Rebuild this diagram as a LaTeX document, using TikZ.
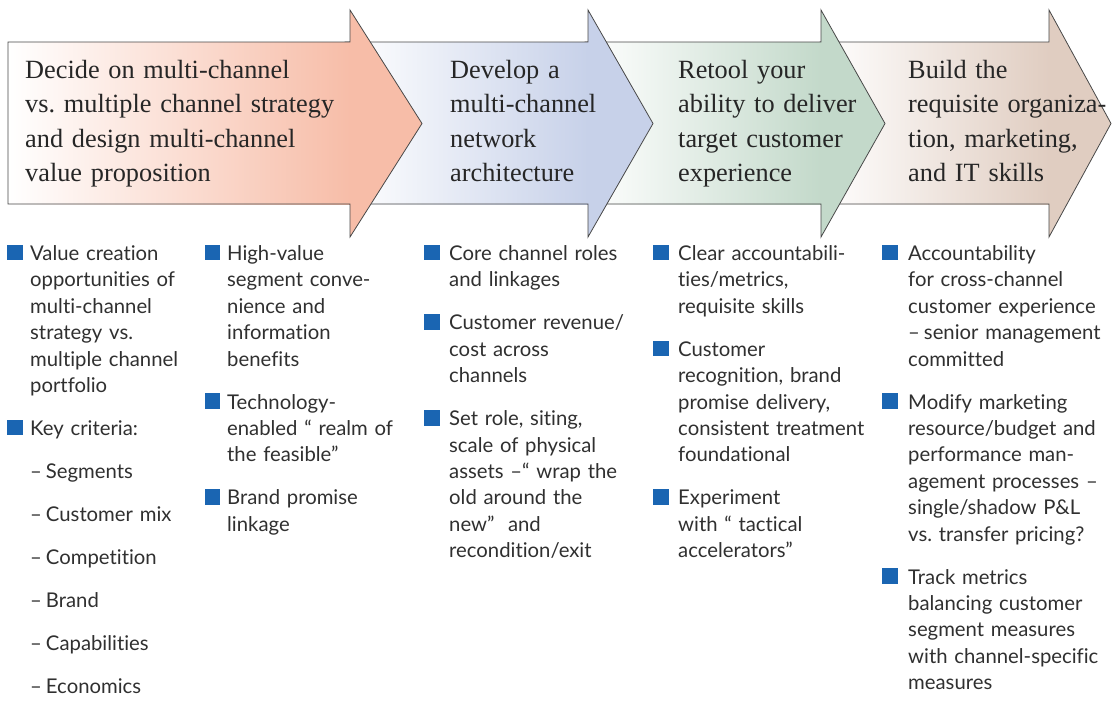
\documentclass[tikz,border=0pt]{standalone}
\usepackage{fontspec}
\setmainfont{Lato}[Ligatures=NoCommon]
\newfontfamily\titlefont{Liberation Serif}
\frenchspacing

\definecolor{salmon}{RGB}{247,189,168}
\definecolor{steel}{RGB}{199,209,233}
\definecolor{sage}{RGB}{195,217,202}
\definecolor{tan}{RGB}{224,205,193}
\definecolor{bulletblue}{RGB}{26,101,178}
\definecolor{outline}{RGB}{72,72,72}
\definecolor{bodygray}{RGB}{48,48,48}
\definecolor{titlegray}{RGB}{38,38,38}

% chevron: #1 left x, #2 head back x, #3 tip x, #4 colour
\newcommand\chevron[4]{%
  \fill[#4] (#1,42) -- (#2,42) -- (#2,10) -- (#3,123.5) -- (#2,237) -- (#2,204) -- (#1,204) -- cycle;
  \shade[left color=white, right color=#4] (#1,42) rectangle (#2,204);
  \draw[arrowline] (#1,42) -- (#2,42) -- (#2,10) -- (#3,123.5) -- (#2,237) -- (#2,204) -- (#1,204) -- cycle;
}

% bullet entry: #1 name, #2 position of first baseline, #3 bullet gap, #4 text
\newcommand\entry[4]{%
  \node[item] (#1) at (#2) {#4};
  \node[bulletsq] at ([xshift=-#3pt]#1.base west) {};
}

\begin{document}
\begin{tikzpicture}[x=1pt,y=-1pt,
  arrowline/.style={draw=outline, line width=0.8pt, line join=miter},
  title/.style={anchor=base west, inner sep=0pt, align=left, text width=330pt,
    font=\titlefont\fontsize{26.3}{34.3}\selectfont, text=titlegray},
  item/.style={anchor=base west, inner sep=0pt, align=left, text width=210pt,
    font=\fontsize{20.3}{26.4}\selectfont, text=bodygray},
  sublist/.style={item, font=\fontsize{20.3}{43}\selectfont},
  bulletsq/.style={fill=bulletblue, minimum size=15.5pt, inner sep=0pt, anchor=south east, draw=none}]

\fill[white] (0,0) rectangle (1113,716);
\useasboundingbox (0,0) rectangle (1113,716);

% the four stages, back to front
\chevron{820}{1049}{1111}{tan}
\chevron{585}{821}{885}{sage}
\chevron{345}{588}{653}{steel}
\chevron{8}{350}{422}{salmon}

\node[title] (s1) at (25,78.5) {Decide on multi-channel\\vs. multiple channel strategy\\and design multi-channel\\value proposition};
\node[title] (s2) at (450,78.5) {Develop a\\multi-channel\\network\\architecture};
\node[title] (s3) at (678,78.5) {Retool your\\ability to deliver\\target customer\\experience};
\node[title] (s4) at (908,78.5) {Build the\\requisite organiza-\\tion, marketing,\\and IT skills};

% column 1
\entry{a1}{30,260.5}{7}{Value creation\\opportunities of\\multi-channel\\strategy vs.\\multiple channel\\portfolio}
\entry{a2}{30,435.5}{7}{Key criteria:}
\node[sublist] (a3) at (30,478) {–\kern4pt Segments\\–\kern4pt Customer mix\\–\kern4pt Competition\\–\kern4pt Brand\\–\kern4pt Capabilities\\–\kern4pt Economics};

% column 2
\entry{b1}{227,260.5}{6.5}{High-value\\segment conve-\\nience and\\information\\benefits}
\entry{b2}{227,409.1}{6.5}{Technology-\\enabled “ realm of\\the feasible”}
\entry{b3}{227,504.9}{6.5}{Brand promise\\linkage}

% column 3
\entry{c1}{449,260.5}{9}{Core channel roles\\and linkages}
\entry{c2}{449,329.9}{9}{Customer revenue/\\cost across\\channels}
\entry{c3}{449,425.7}{9}{Set role, siting,\\scale of physical\\assets –“ wrap the\\old around the\\new”\ \ and\\recondition/exit}

% column 4
\entry{d1}{678,260.5}{9}{Clear accountabili-\\ties/metrics,\\requisite skills}
\entry{d2}{678,356.3}{9}{Customer\\recognition, brand\\promise delivery,\\consistent treatment\\foundational}
\entry{d3}{678,504.9}{9}{Experiment\\with “ tactical\\accelerators”}

% column 5
\entry{e1}{908,260.5}{10}{Accountability\\for cross-channel\\customer experience\\–\kern4pt senior management\\committed}
\entry{e2}{908,409.1}{10}{Modify marketing\\resource/budget and\\performance man-\\agement processes –\\single/shadow P\&L\\vs. transfer pricing?}
\entry{e3}{908,584.1}{10}{Track metrics\\balancing customer\\segment measures\\with channel-specific\\measures}

\end{tikzpicture}
\end{document}
